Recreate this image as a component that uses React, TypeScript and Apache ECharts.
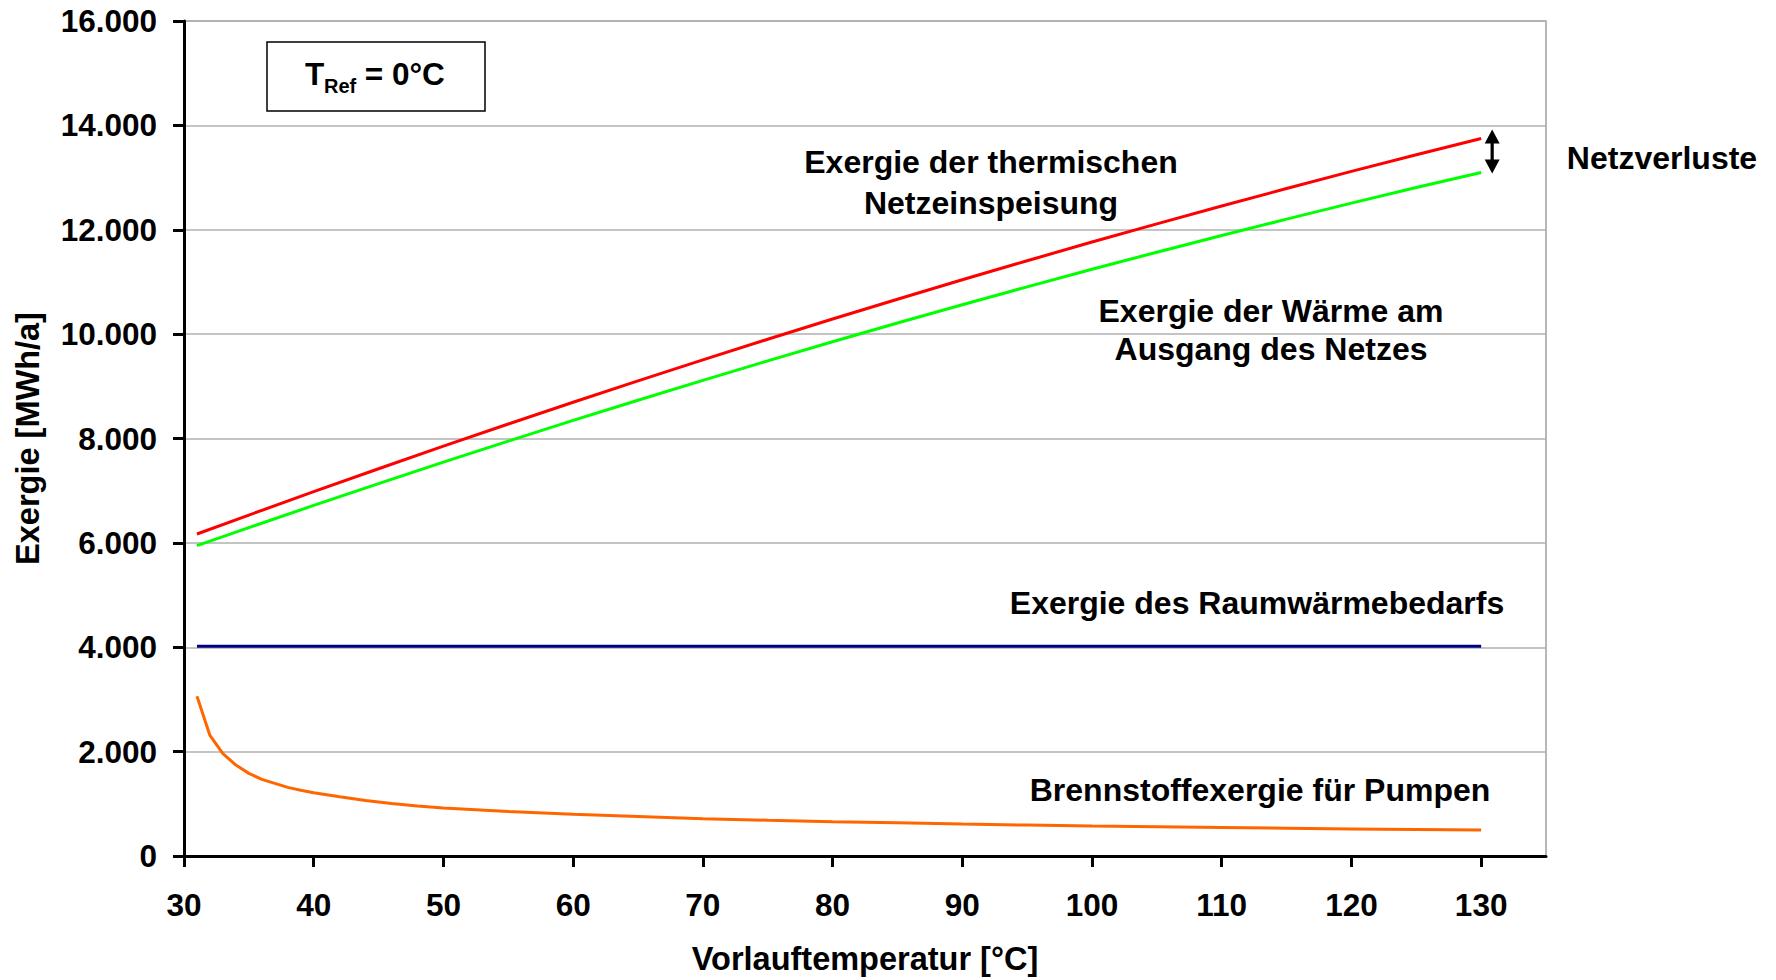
import React, { useEffect, useRef } from "react";
import * as echarts from "echarts";

// X axis tick values (Vorlauftemperatur in °C)
const xTickValues = [30, 40, 50, 60, 70, 80, 90, 100, 110, 120, 130];

// Temperatures for the two upper curves
const mainTemps = [31, 35, 40, 45, 50, 55, 60, 65, 70, 75, 80, 85, 90, 95, 100, 105, 110, 115, 120, 125, 130];
// Exergie der thermischen Netzeinspeisung [MWh/a]
const feedInExergy = [6170, 6533, 6981, 7421, 7853, 8277, 8695, 9105, 9507, 9902, 10290, 10669, 11041, 11406, 11764, 12113, 12455, 12790, 13118, 13438, 13749];
// Exergie der Wärme am Ausgang des Netzes [MWh/a]
const outletExergy = [5946, 6292, 6718, 7136, 7547, 7950, 8346, 8734, 9114, 9488, 9854, 10212, 10562, 10906, 11242, 11570, 11890, 12203, 12510, 12808, 13098];

// Exergie des Raumwärmebedarfs [MWh/a]
const demandTemps = [31, 130];
const demandExergy = [4020, 4020];

// Brennstoffexergie für Pumpen [MWh/a]
const pumpTemps = [31, 32, 33, 34, 35, 36, 37, 38, 39, 40, 42, 44, 46, 48, 50, 55, 60, 65, 70, 75, 80, 85, 90, 95, 100, 105, 110, 115, 120, 125, 130];
const pumpExergy = [3062, 2310, 1960, 1742, 1583, 1468, 1391, 1315, 1260, 1213, 1135, 1065, 1005, 958, 919, 852, 800, 758, 716, 685, 658, 635, 612, 593, 575, 560, 545, 531, 519, 508, 498];

// Netzverluste arrow (data coordinates)
const lossArrowX = 130.85;
const lossArrowTop = 13920;
const lossArrowBottom = 13080;

const FONT = "'Liberation Sans', Arial, Helvetica, sans-serif";

function pairs(xs: number[], ys: number[]) {
  return xs.map((x, i) => [x, ys[i]]);
}

function fmtThousands(v: number) {
  return String(Math.round(v)).replace(/\B(?=(\d{3})+(?!\d))/g, ".");
}

export default function App() {
  const ref = useRef<HTMLDivElement>(null);

  useEffect(() => {
    document.body.style.margin = "0";
    const chart = echarts.init(ref.current!, null, { renderer: "svg" });
    const labelStyle = { fontFamily: FONT, fontWeight: "bold", fontSize: 31.5, color: "#000" };
    const nameStyle = { fontFamily: FONT, fontWeight: "bold", fontSize: 32.5, color: "#000" };

    chart.setOption({
      animation: false,
      backgroundColor: "#fff",
      grid: {
        left: 184,
        right: 230,
        top: 21,
        bottom: 123,
        show: true,
        borderColor: "#a0a0a0",
        borderWidth: 1.5,
        backgroundColor: "transparent",
      },
      xAxis: {
        type: "value",
        min: 30,
        max: 135,
        interval: 10,
        name: "Vorlauftemperatur [°C]",
        nameLocation: "middle",
        nameGap: 86,
        nameTextStyle: nameStyle,
        axisLine: { show: true, onZero: false, lineStyle: { color: "#000", width: 3 } },
        axisTick: { show: true, length: 11, lineStyle: { color: "#000", width: 3 }, customValues: xTickValues },
        axisLabel: { ...labelStyle, margin: 33, customValues: xTickValues },
        splitLine: { show: false },
      },
      yAxis: {
        type: "value",
        min: 0,
        max: 16000,
        interval: 2000,
        name: "Exergie [MWh/a]",
        nameLocation: "middle",
        nameGap: 140,
        nameRotate: 90,
        nameTextStyle: nameStyle,
        axisLine: { show: true, lineStyle: { color: "#000", width: 3 } },
        axisTick: { show: true, length: 11, lineStyle: { color: "#000", width: 3 } },
        axisLabel: { ...labelStyle, margin: 27, formatter: (v: number) => fmtThousands(v) },
        splitLine: { show: true, lineStyle: { color: "#b0b0b0", width: 1.5 } },
      },
      series: [
        {
          name: "Exergie der thermischen Netzeinspeisung",
          type: "line",
          data: pairs(mainTemps, feedInExergy),
          showSymbol: false,
          lineStyle: { color: "#ff0000", width: 3 },
          itemStyle: { color: "#ff0000" },
        },
        {
          name: "Exergie der Wärme am Ausgang des Netzes",
          type: "line",
          data: pairs(mainTemps, outletExergy),
          showSymbol: false,
          lineStyle: { color: "#00ff00", width: 3 },
          itemStyle: { color: "#00ff00" },
        },
        {
          name: "Exergie des Raumwärmebedarfs",
          type: "line",
          data: pairs(demandTemps, demandExergy),
          showSymbol: false,
          lineStyle: { color: "#000080", width: 3 },
          itemStyle: { color: "#000080" },
        },
        {
          name: "Brennstoffexergie für Pumpen",
          type: "line",
          data: pairs(pumpTemps, pumpExergy),
          showSymbol: false,
          lineStyle: { color: "#ff6600", width: 3 },
          itemStyle: { color: "#ff6600" },
        },
      ],
    });

    const top = chart.convertToPixel({ gridIndex: 0 }, [lossArrowX, lossArrowTop]) as number[];
    const bot = chart.convertToPixel({ gridIndex: 0 }, [lossArrowX, lossArrowBottom]) as number[];
    const cx = top[0];
    const ty = top[1];
    const by = bot[1];
    const hh = 14;
    const hw = 7.5;
    const sw = 1.6;

    const txt = (text: string, x: number, y: number, size = 32, align = "center") => ({
      type: "text",
      x,
      y,
      style: {
        text,
        fill: "#000",
        font: `bold ${size}px ${FONT}`,
        align,
        verticalAlign: "middle",
        textAlign: align,
        textVerticalAlign: "middle",
      },
    });

    chart.setOption({
      graphic: [
        {
          type: "rect",
          shape: { x: 267, y: 42, width: 218, height: 69 },
          style: { fill: "#fff", stroke: "#000", lineWidth: 1.5 },
        },
        txt("T", 305, 74, 31.5, "left"),
        txt("Ref", 324, 86, 20, "left"),
        txt(" = 0°C", 356, 74, 31.5, "left"),
        txt("Exergie der thermischen", 991, 162),
        txt("Netzeinspeisung", 991, 203),
        txt("Exergie der Wärme am", 1271, 311),
        txt("Ausgang des Netzes", 1271, 349),
        txt("Exergie des Raumwärmebedarfs", 1257, 603),
        txt("Brennstoffexergie für Pumpen", 1260, 790),
        txt("Netzverluste", 1662, 158),
        {
          type: "polygon",
          shape: {
            points: [
              [cx, ty],
              [cx + hw, ty + hh],
              [cx + sw, ty + hh],
              [cx + sw, by - hh],
              [cx + hw, by - hh],
              [cx, by],
              [cx - hw, by - hh],
              [cx - sw, by - hh],
              [cx - sw, ty + hh],
              [cx - hw, ty + hh],
            ],
          },
          style: { fill: "#000" },
        },
      ],
    });

    return () => chart.dispose();
  }, []);

  return <div ref={ref} style={{ position: "absolute", left: 0, top: 0, width: 1776, height: 980 }} />;
}
